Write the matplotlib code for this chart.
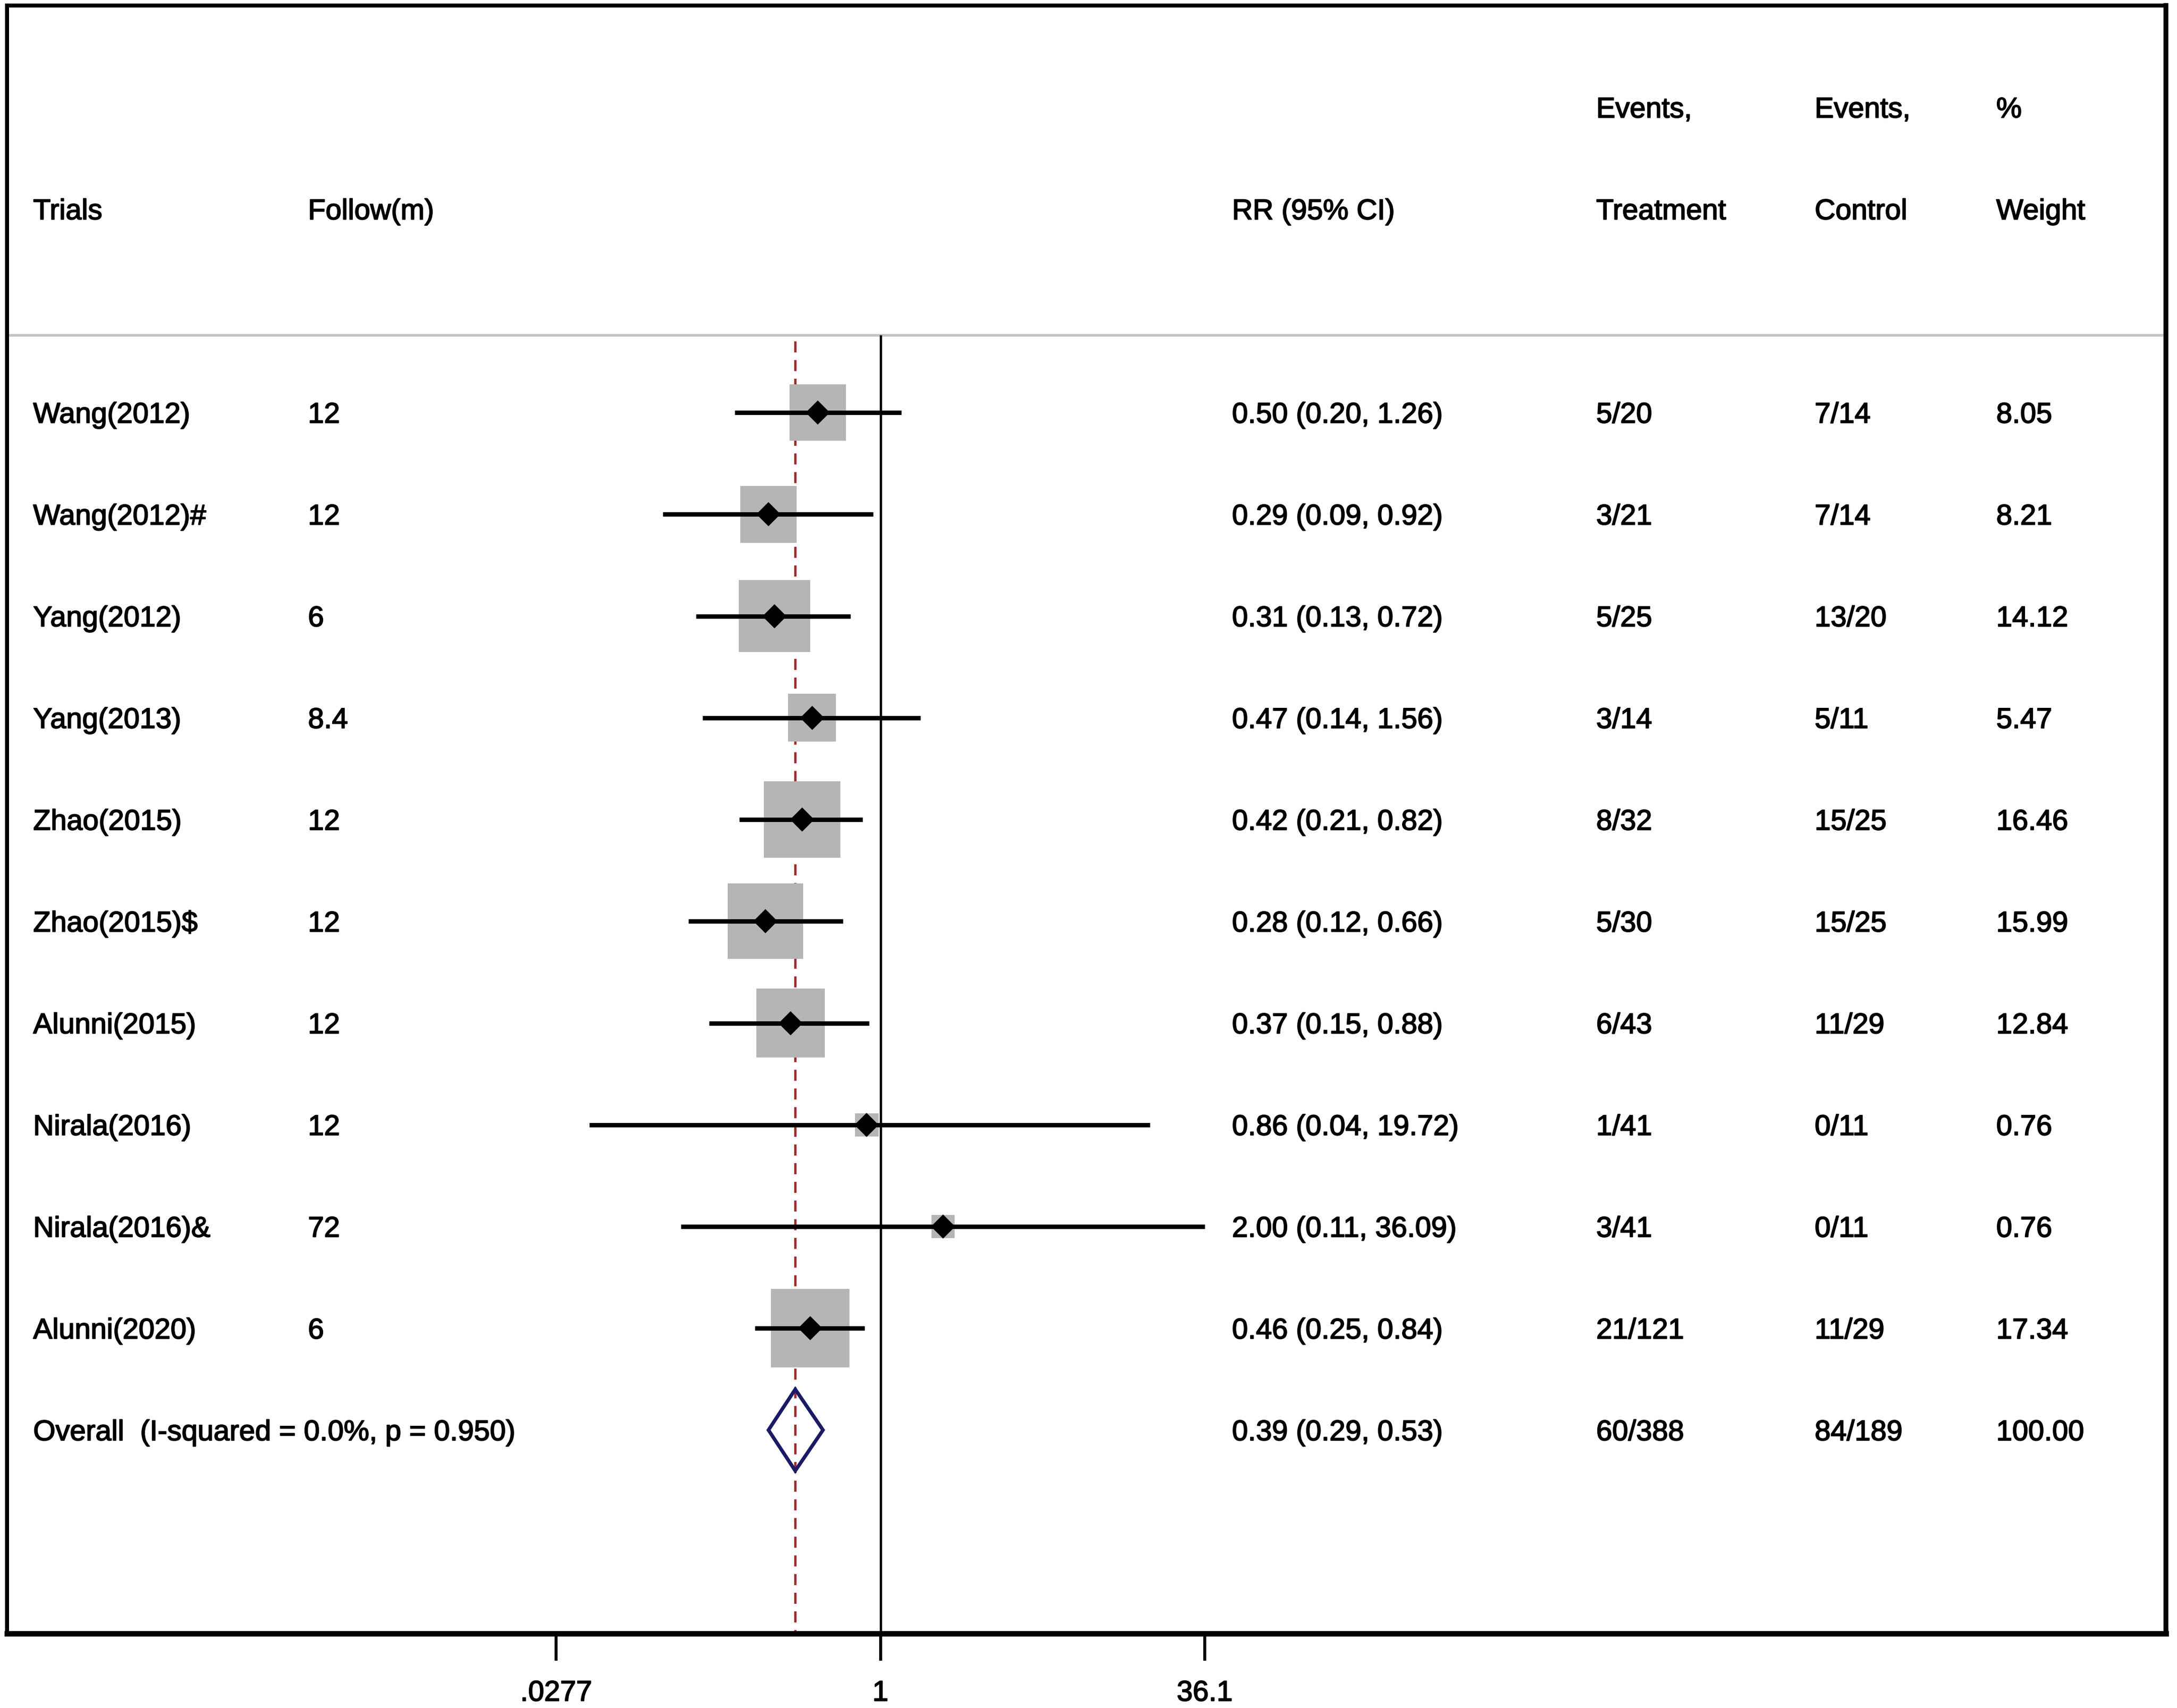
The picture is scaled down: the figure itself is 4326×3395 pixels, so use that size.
import numpy as np
import matplotlib
matplotlib.use("Agg")
import matplotlib.pyplot as plt
import matplotlib.patheffects as pe
from matplotlib import transforms
from matplotlib.patches import Rectangle, Polygon
from matplotlib.ticker import NullLocator

plt.rcParams["font.family"] = ["Liberation Sans", "DejaVu Sans"]

# ==== data ====
trials = ["Wang(2012)", "Wang(2012)#", "Yang(2012)", "Yang(2013)", "Zhao(2015)",
          "Zhao(2015)$", "Alunni(2015)", "Nirala(2016)", "Nirala(2016)&", "Alunni(2020)"]
follow = ["12", "12", "6", "8.4", "12", "12", "12", "12", "72", "6"]
rr = [0.50, 0.29, 0.31, 0.47, 0.42, 0.28, 0.37, 0.86, 2.00, 0.46]
ci_lo = [0.20, 0.09, 0.13, 0.14, 0.21, 0.12, 0.15, 0.04, 0.11, 0.25]
ci_hi = [1.26, 0.92, 0.72, 1.56, 0.82, 0.66, 0.88, 19.72, 36.09, 0.84]
ev_treat = ["5/20", "3/21", "5/25", "3/14", "8/32", "5/30", "6/43", "1/41", "3/41", "21/121"]
ev_ctrl = ["7/14", "7/14", "13/20", "5/11", "15/25", "15/25", "11/29", "0/11", "0/11", "11/29"]
weight = [8.05, 8.21, 14.12, 5.47, 16.46, 15.99, 12.84, 0.76, 0.76, 17.34]

overall_label = "Overall  (I-squared = 0.0%, p = 0.950)"
overall_rr, overall_lo, overall_hi = 0.39, 0.29, 0.53
overall_treat, overall_ctrl, overall_weight = "60/388", "84/189", "100.00"

xtick_vals = [0.0277, 1, 36.1]
xtick_labels = [".0277", "1", "36.1"]

# ==== layout ====
W, H, DPI = 4326, 3395, 300
fig = plt.figure(figsize=(W / DPI, H / DPI), dpi=DPI)
ax_l, ax_r, ax_t, ax_b = 14, 4304, 11, 3247          # pixel edges of plot frame
ax = fig.add_axes([ax_l / W, 1 - ax_b / H, (ax_r - ax_l) / W, (ax_b - ax_t) / H])

px_per_ln = 179.7
x_center = 1749.5
ax.set_xscale("log")
ax.set_xlim(np.exp((ax_l - x_center) / px_per_ln), np.exp((ax_r - x_center) / px_per_ln))
ax.set_ylim(12, -4)
px_per_row = (ax_b - ax_t) / 16.0

FS = 13.7
n = len(trials)
rows = np.arange(n)
ov_row = n

# grey separator + reference lines
ax.axhline(-0.76, color="#c4c4c4", lw=1.3, zorder=1)
ax.vlines(1, -0.76, 12, color="black", lw=1.1, zorder=2)
ax.vlines(overall_rr, -0.70, 12, color="#a0282d", lw=1.1,
          linestyles=[(0, (4.8, 3.3))], zorder=2)

# weight boxes
for r, v, w in zip(rows, rr, weight):
    side = 33.2 * np.sqrt(w) + 17.4
    hw = side / 2 / px_per_ln
    hh = side / 2 / px_per_row
    ax.add_patch(Rectangle((v * np.exp(-hw), r - hh), v * (np.exp(hw) - np.exp(-hw)), 2 * hh,
                           facecolor="#b5b5b5", edgecolor="none", zorder=3))

# confidence intervals and point estimates
ax.hlines(rows, ci_lo, ci_hi, color="black", lw=2.1, zorder=4)
ax.plot(rr, rows, "D", color="black", ms=8.2, mew=0, zorder=5)

# overall diamond
dh = 0.40
ax.add_patch(Polygon([(overall_lo, ov_row), (overall_rr, ov_row - dh),
                      (overall_hi, ov_row), (overall_rr, ov_row + dh)],
                     closed=True, facecolor="none", edgecolor="#1a1a66", lw=1.7, zorder=5))

# ==== text columns ====
tr = transforms.blended_transform_factory(ax.transAxes, ax.transData)
col_trial, col_follow, col_rr = 0.0121, 0.1394, 0.5674
col_treat, col_ctrl, col_w = 0.7361, 0.8373, 0.9214
heavy = [pe.withStroke(linewidth=0.45, foreground="black")]
base_off = 0.101   # half cap height in rows -> baseline below row centre

def put(x, y, s):
    ax.text(x, y + base_off, s, transform=tr, fontsize=FS, va="baseline", ha="left",
            zorder=6, path_effects=heavy)

put(col_treat, -3, "Events,")
put(col_ctrl, -3, "Events,")
put(col_w, -3, "%")
put(col_trial, -2, "Trials")
put(col_follow, -2, "Follow(m)")
put(col_rr, -2, "RR (95% CI)")
put(col_treat, -2, "Treatment")
put(col_ctrl, -2, "Control")
put(col_w, -2, "Weight")

for r in rows:
    put(col_trial, r, trials[r])
    put(col_follow, r, follow[r])
    put(col_rr, r, f"{rr[r]:.2f} ({ci_lo[r]:.2f}, {ci_hi[r]:.2f})")
    put(col_treat, r, ev_treat[r])
    put(col_ctrl, r, ev_ctrl[r])
    put(col_w, r, f"{weight[r]:.2f}")

put(col_trial, ov_row, overall_label)
put(col_rr, ov_row, f"{overall_rr:.2f} ({overall_lo:.2f}, {overall_hi:.2f})")
put(col_treat, ov_row, overall_treat)
put(col_ctrl, ov_row, overall_ctrl)
put(col_w, ov_row, overall_weight)

# ==== axes styling ====
ax.set_xticks(xtick_vals)
ax.set_xticklabels(xtick_labels)
ax.xaxis.set_minor_locator(NullLocator())
ax.set_yticks([])
ax.tick_params(axis="x", length=13, width=1.4, pad=9, labelsize=FS, direction="out")
for lab in ax.get_xticklabels():
    lab.set_path_effects(heavy)
ax.spines["top"].set_linewidth(1.9)
ax.spines["left"].set_linewidth(1.9)
ax.spines["right"].set_linewidth(2.3)
ax.spines["bottom"].set_linewidth(2.6)

fig.savefig("out.png", dpi=DPI)
